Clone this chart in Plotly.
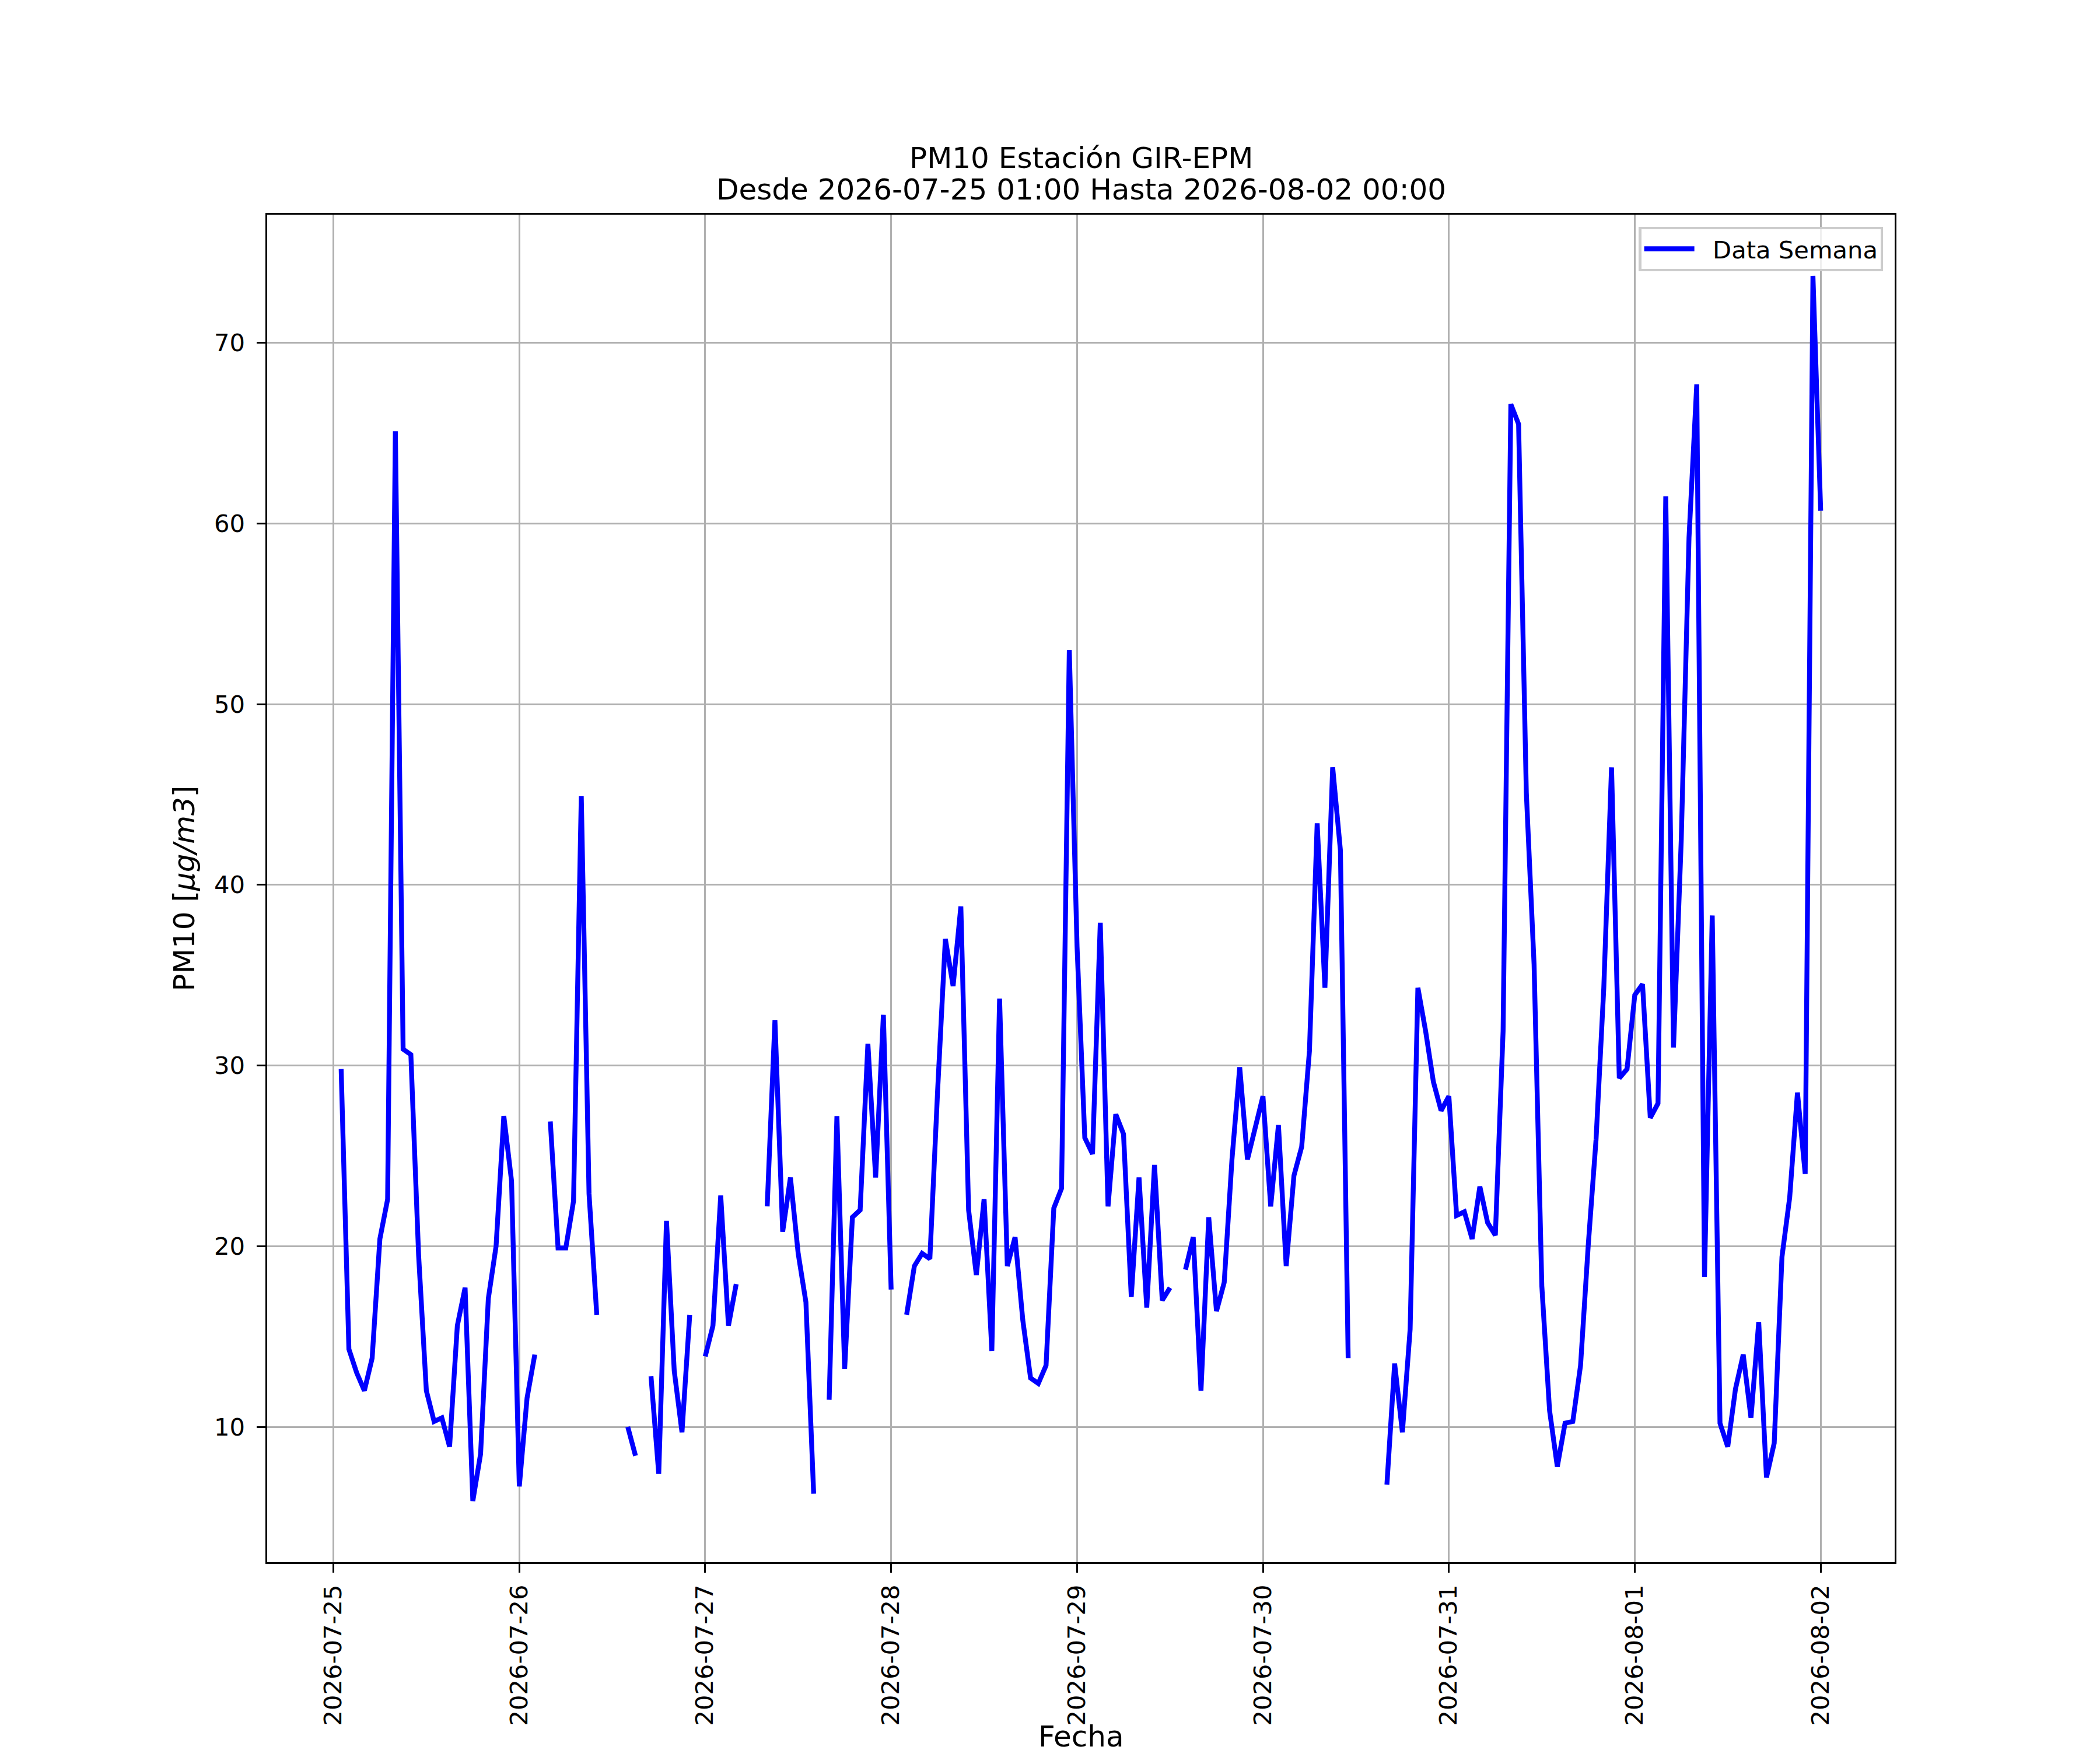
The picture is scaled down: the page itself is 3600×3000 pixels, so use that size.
import pandas as pd
import plotly.graph_objects as go

# Hourly PM10 readings, 2026-07-25 01:00 to 2026-08-02 00:00 (None = no data)
fechas = pd.date_range("2026-07-25 01:00", "2026-08-02 00:00", freq="h")
pm10 = [
    29.8, 14.3, 13.0, 12.0, 13.8, 20.4, 22.6, 65.1, 30.9, 30.6, 19.5, 12.0,
    10.3, 10.5, 8.9, 15.6, 17.7, 5.9, 8.5, 17.1, 20.0, 27.2, 23.6, 6.7,
    11.6, 14.0, None, 26.9, 19.9, 19.9, 22.5, 44.9, 22.9, 16.2, None, None,
    None, 10.0, 8.4, None, 12.8, 7.4, 21.4, 13.1, 9.7, 16.2, None, 13.9,
    15.6, 22.8, 15.6, 17.9, None, None, None, 22.2, 32.5, 20.8, 23.8, 19.6,
    16.9, 6.3, None, 11.5, 27.2, 13.2, 21.6, 22.0, 31.2, 23.8, 32.8, 17.6,
    None, 16.2, 18.9, 19.6, 19.3, 28.6, 37.0, 34.4, 38.8, 22.0, 18.4, 22.6,
    14.2, 33.7, 18.9, 20.5, 15.9, 12.7, 12.4, 13.4, 22.1, 23.2, 53.0, 36.6,
    26.0, 25.1, 37.9, 22.2, 27.3, 26.2, 17.2, 23.8, 16.6, 24.5, 17.0, 17.7,
    None, 18.7, 20.5, 12.0, 21.6, 16.4, 18.0, 24.8, 29.9, 24.8, 26.5, 28.3,
    22.2, 26.7, 18.9, 23.9, 25.5, 30.8, 43.4, 34.3, 46.5, 41.9, 13.8, None,
    None, None, None, 6.8, 13.5, 9.7, 15.4, 34.3, 31.9, 29.1, 27.5, 28.3,
    21.7, 21.9, 20.4, 23.3, 21.3, 20.6, 31.9, 66.6, 65.5, 45.1, 35.6, 17.8,
    10.9, 7.8, 10.2, 10.3, 13.4, 20.1, 25.9, 34.3, 46.5, 29.3, 29.8, 33.9,
    34.5, 27.1, 27.9, 61.5, 31.0, 42.5, 59.2, 67.7, 18.3, 38.3, 10.2, 8.9,
    12.1, 14.0, 10.5, 15.8, 7.2, 9.1, 19.4, 22.7, 28.5, 24.0, 73.7, 60.7,
]
dias = pd.date_range("2026-07-25", "2026-08-02", freq="D")
y_ticks = [10, 20, 30, 40, 50, 60, 70]

FONT = "DejaVu Sans"
PT = 300 / 72  # matplotlib points -> pixels at 300 dpi

# matplotlib-style 5% autoscale margins
validos = [v for v in pm10 if v is not None]
ymin, ymax = min(validos), max(validos)
yr = [ymin - 0.05 * (ymax - ymin), ymax + 0.05 * (ymax - ymin)]
span = fechas[-1] - fechas[0]
xr = [fechas[0] - 0.05 * span, fechas[-1] + 0.05 * span]

fig = go.Figure()
fig.add_trace(go.Scatter(
    x=fechas, y=pm10, mode="lines", name="\u00a0\u00a0Data Semana",
    line=dict(color="#0000ff", width=2 * PT),
    connectgaps=False,
))

eje = dict(
    showline=True, linecolor="black", linewidth=0.8 * PT, mirror=True,
    showgrid=True, gridcolor="#b0b0b0", gridwidth=0.8 * PT,
    ticks="outside", ticklen=3.5 * PT, tickwidth=0.8 * PT, tickcolor="black",
    tickfont=dict(family=FONT, size=10 * PT, color="black"),
    zeroline=False, automargin=False,
)

fig.update_xaxes(
    eje, range=xr, tickvals=dias, ticktext=[d.strftime("%Y-%m-%d") for d in dias],
    tickangle=-90, ticklabelstandoff=4,
)
fig.update_yaxes(
    eje, range=yr, tickvals=y_ticks, ticklabelstandoff=12,
    title=dict(text="PM10 [<i>μg/m3</i>]", font=dict(family=FONT, size=12 * PT, color="black"),
               standoff=18),
)

alto_plot = 3000 - 360 - 330
# title lines and x label placed like matplotlib does
textos = [
    ("PM10 Estación GIR-EPM", 1 + 66 / alto_plot),
    ("Desde 2026-07-25 01:00 Hasta 2026-08-02 00:00", 1 + 12 / alto_plot),
    ("Fecha", -330 / alto_plot),
]
for texto, yy in textos:
    fig.add_annotation(
        text=texto, xref="paper", yref="paper", x=0.5, y=yy,
        xanchor="center", yanchor="bottom", showarrow=False,
        font=dict(family=FONT, size=12 * PT, color="black"),
    )

fig.update_layout(
    width=3600, height=3000,
    margin=dict(l=450, r=360, t=360, b=330),
    paper_bgcolor="white", plot_bgcolor="white",
    showlegend=True,
    legend=dict(
        x=0.993, y=0.991, xanchor="right", yanchor="top",
        bgcolor="rgba(255,255,255,0.8)", bordercolor="#cccccc", borderwidth=1 * PT,
        font=dict(family=FONT, size=10 * PT, color="black"),
        itemwidth=86,
    ),
)

fig.write_html("out.html")
